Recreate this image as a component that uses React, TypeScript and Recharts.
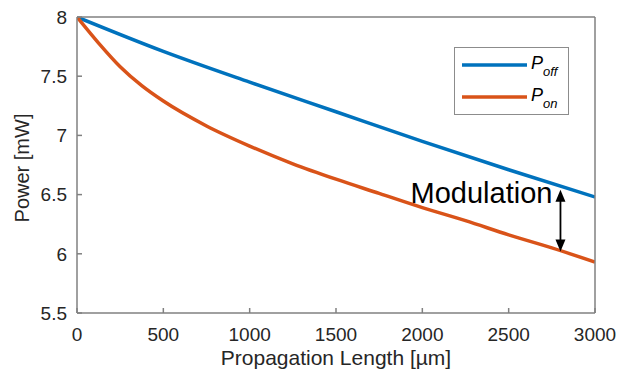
import React from 'react';
import { LineChart, Line, XAxis, YAxis, ReferenceLine, Legend } from 'recharts';

const FONT = '"Liberation Sans", Arial, sans-serif';
const BLUE = '#0072BD';
const ORANGE = '#D95319';
const AXIS = '#808080';
const TEXT = '#262626';

// Propagation length (µm) and power (mW)
const lengthsOff = [0, 500, 1000, 1500, 2000, 2500, 3000];
const powerOff = [8, 7.71, 7.45, 7.2, 6.95, 6.71, 6.48];
const lengthsOn = [0, 125, 250, 375, 500, 750, 1000, 1250, 1500, 1750, 2000, 2250, 2500, 2750, 3000];
const powerOn = [8, 7.78, 7.58, 7.42, 7.29, 7.08, 6.91, 6.76, 6.63, 6.51, 6.39, 6.28, 6.16, 6.05, 5.93];

const xTicks = [0, 500, 1000, 1500, 2000, 2500, 3000];
const yTicks = [5.5, 6, 6.5, 7, 7.5, 8];

const arrowX = 2800;
const arrowTop = 6.54;
const arrowBottom = 6.02;
const annotation = 'Modulation';

const offData = lengthsOff.map((x, i) => ({ x, p: powerOff[i] }));
const onData = lengthsOn.map((x, i) => ({ x, p: powerOn[i] }));

const ArrowShape = (props: any) => {
  const { x1, y1, x2, y2 } = props;
  const top = Math.min(y1, y2);
  const bot = Math.max(y1, y2);
  const hw = 5;
  const hh = 12;
  return (
    <g>
      <line x1={x1} x2={x2} y1={top + hh - 1} y2={bot - hh + 1} stroke="#000" strokeWidth={1.8} />
      <path d={`M${x1},${top} L${x1 - hw},${top + hh} L${x1 + hw},${top + hh} Z`} fill="#000" />
      <path d={`M${x1},${bot} L${x1 - hw},${bot - hh} L${x1 + hw},${bot - hh} Z`} fill="#000" />
      <text x={x1 - 8} y={top + 13} textAnchor="end" fontSize={29} fontFamily={FONT} fill="#000">
        {annotation}
      </text>
    </g>
  );
};

const LegendBox = () => (
  <svg width={116} height={69} style={{ display: 'block' }}>
    <rect x={0.5} y={0.5} width={114} height={67} fill="#fff" stroke="#8c8c8c" strokeWidth={1} />
    <line x1={8} x2={73} y1={18} y2={18} stroke={BLUE} strokeWidth={3.5} />
    <text x={77} y={22} fontFamily={FONT} fontStyle="italic" fontSize={18} fill="#000">
      P
      <tspan dy={7} fontSize={13}>off</tspan>
    </text>
    <line x1={8} x2={73} y1={50} y2={50} stroke={ORANGE} strokeWidth={3.5} />
    <text x={77} y={54} fontFamily={FONT} fontStyle="italic" fontSize={18} fill="#000">
      P
      <tspan dy={7} fontSize={13}>on</tspan>
    </text>
  </svg>
);

export default function App() {
  return (
    <div style={{ position: 'absolute', left: 0, top: 0, width: 617, height: 371, background: '#fff' }}>
      <LineChart width={617} height={371} margin={{ top: 0, right: 2, bottom: 8, left: 17 }}>
        <XAxis
          xAxisId="b"
          type="number"
          dataKey="x"
          domain={[0, 3000]}
          ticks={xTicks}
          allowDataOverflow
          height={50}
          tickSize={-5}
          tickMargin={20}
          stroke={AXIS}
          strokeWidth={1.5}
          tick={{ fill: TEXT, fontSize: 19, fontFamily: FONT }}
          label={{
            content: (p: any) => {
              const vb = p.viewBox;
              return (
                <text x={vb.x + vb.width / 2} y={vb.y + 52} textAnchor="middle" fontSize={21} fontFamily={FONT} fill={TEXT}>
                  Propagation Length [µm]
                </text>
              );
            },
          }}
        />
        <XAxis
          xAxisId="t"
          orientation="top"
          type="number"
          dataKey="x"
          domain={[0, 3000]}
          ticks={xTicks}
          allowDataOverflow
          height={17}
          tickSize={-5}
          tick={false}
          stroke={AXIS}
          strokeWidth={1.5}
        />
        <YAxis
          yAxisId="l"
          type="number"
          domain={[5.5, 8]}
          ticks={yTicks}
          allowDataOverflow
          width={60}
          tickSize={-5}
          tickMargin={15}
          stroke={AXIS}
          strokeWidth={1.5}
          tick={{ fill: TEXT, fontSize: 19, fontFamily: FONT }}
          label={{
            content: (p: any) => {
              const vb = p.viewBox;
              const cy = vb.y + vb.height / 2 + 3;
              return (
                <text x={22} y={cy} transform={`rotate(-90 22 ${cy})`} textAnchor="middle" dominantBaseline="central" fontSize={20} fontFamily={FONT} fill={TEXT}>
                  Power [mW]
                </text>
              );
            },
          }}
        />
        <YAxis
          yAxisId="r"
          orientation="right"
          type="number"
          domain={[5.5, 8]}
          ticks={yTicks}
          allowDataOverflow
          width={20}
          tickSize={-5}
          tick={false}
          stroke={AXIS}
          strokeWidth={1.5}
        />
        <Line
          xAxisId="b"
          yAxisId="l"
          data={offData}
          dataKey="p"
          name="off"
          type="monotone"
          stroke={BLUE}
          strokeWidth={3.5}
          dot={false}
          isAnimationActive={false}
        />
        <Line
          xAxisId="b"
          yAxisId="l"
          data={onData}
          dataKey="p"
          name="on"
          type="monotone"
          stroke={ORANGE}
          strokeWidth={3.5}
          dot={false}
          isAnimationActive={false}
        />
        <ReferenceLine
          xAxisId="b"
          yAxisId="l"
          segment={[
            { x: arrowX, y: arrowTop },
            { x: arrowX, y: arrowBottom },
          ]}
          shape={ArrowShape}
        />
        <Legend
          layout="vertical"
          align="center"
          verticalAlign="middle"
          wrapperStyle={{ left: 454, top: 47, width: 116, height: 69 }}
          content={() => <LegendBox />}
        />
      </LineChart>
    </div>
  );
}
